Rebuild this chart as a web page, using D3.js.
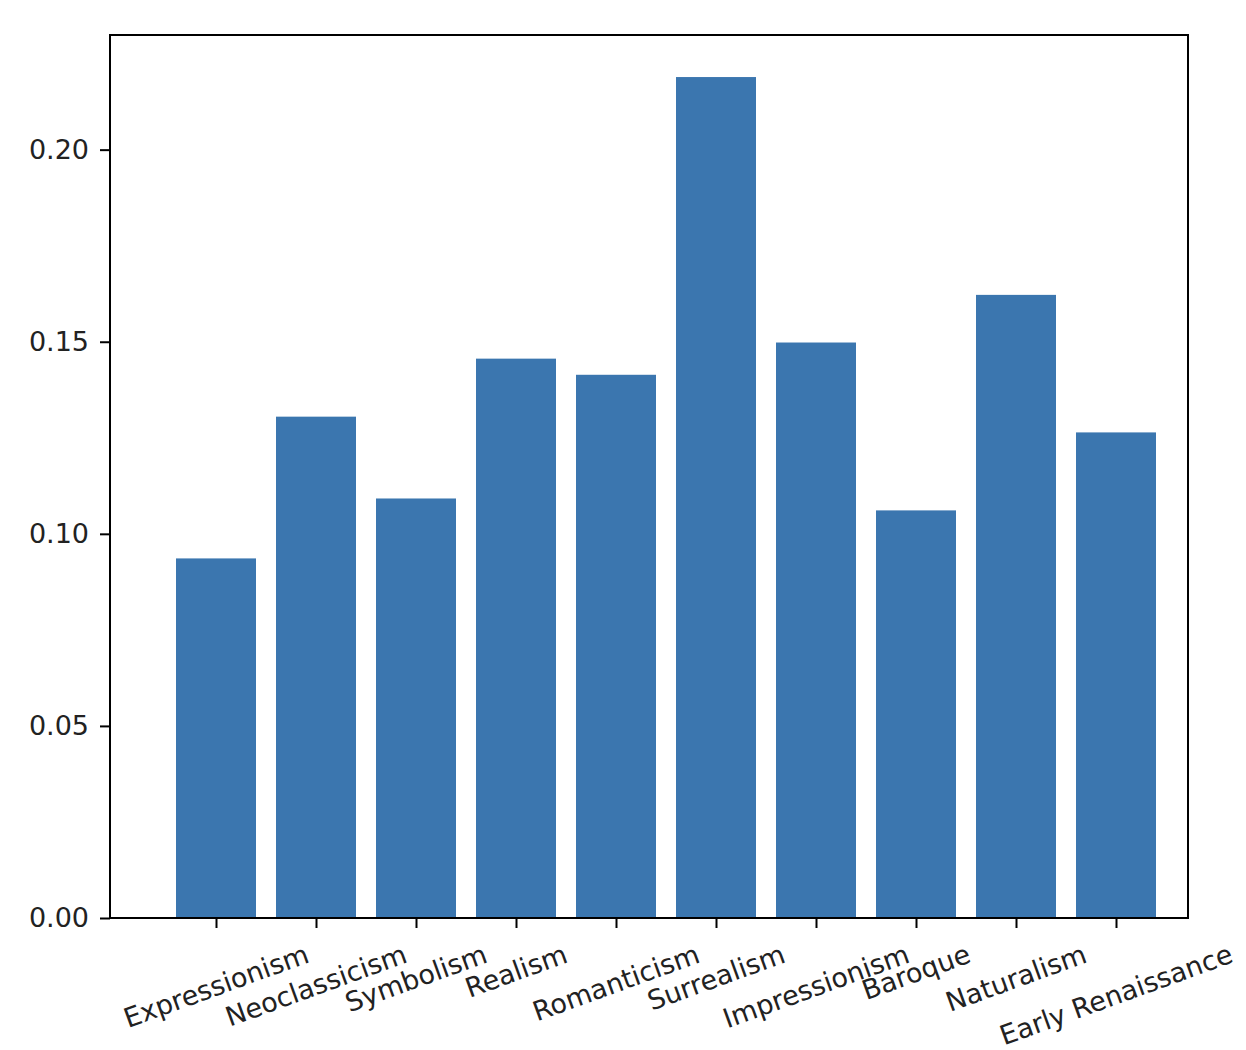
<!DOCTYPE html>
<html><head><meta charset="utf-8">
<script src="https://cdn.jsdelivr.net/npm/d3@7"></script>
<style>body{margin:0;background:#fff}svg{display:block}text{font-family:"DejaVu Sans",sans-serif;fill:#222}</style>
</head><body>
<svg id="c" width="1246" height="1050"></svg>
<script>
const categories = ["Expressionism","Neoclassicism","Symbolism","Realism","Romanticism","Surrealism","Impressionism","Baroque","Naturalism","Early Renaissance"];
const values = [0.0936,0.1305,0.1092,0.1456,0.1414,0.2189,0.1498,0.1061,0.1622,0.1264];
const yTicks = [0.00,0.05,0.10,0.15,0.20];

const svg = d3.select("#c");
const L = 110, R = 1188, T = 35, B = 918;
const fs = 27;
const n = categories.length;
const x = d3.scaleLinear().domain([-1.06, n - 1 + 0.72]).range([L, R]);
const ymax = d3.max(values) * 1.05;
const y = d3.scaleLinear().domain([0, ymax]).range([B, T]);

svg.append("g").selectAll("rect").data(values).join("rect")
  .attr("x", (d, i) => x(i - 0.4)).attr("width", (d, i) => x(i + 0.4) - x(i - 0.4))
  .attr("y", d => y(d)).attr("height", d => y(0) - y(d))
  .attr("fill", "#3b76af");

// frame
svg.append("rect").attr("x", L).attr("y", T).attr("width", R - L).attr("height", B - T)
  .attr("fill", "none").attr("stroke", "#000").attr("stroke-width", 2);

// y axis
const ya = svg.append("g").attr("transform", `translate(${L},0)`)
  .call(d3.axisLeft(y).tickValues(yTicks).tickFormat(d3.format(".2f")).tickSize(10).tickPadding(11));
ya.select(".domain").remove();
ya.selectAll("line").attr("stroke", "#000").attr("stroke-width", 2);
ya.selectAll("text").attr("font-size", fs).attr("font-family", '"DejaVu Sans",sans-serif').attr("fill", "#222");

// x axis ticks
const xa = svg.append("g").attr("transform", `translate(0,${B})`)
  .call(d3.axisBottom(x).tickValues(d3.range(n)).tickFormat("").tickSize(10));
xa.select(".domain").remove();
xa.selectAll("line").attr("stroke", "#000").attr("stroke-width", 2);

// rotated labels
const ang = 20 * Math.PI / 180;
const lg = svg.append("g");
categories.forEach((c, i) => {
  const t = lg.append("text").attr("font-size", fs).attr("text-anchor", "middle")
    .attr("dominant-baseline", "central").text(c);
  const len = t.node().getComputedTextLength();
  const h = fs * 1.16;
  const H = len * Math.sin(ang) + h * Math.cos(ang);
  const cx = x(i), cy = B + 10 + 10 + H / 2;
  t.attr("transform", `translate(${cx},${cy}) rotate(-20)`);
});
</script>
</body></html>
